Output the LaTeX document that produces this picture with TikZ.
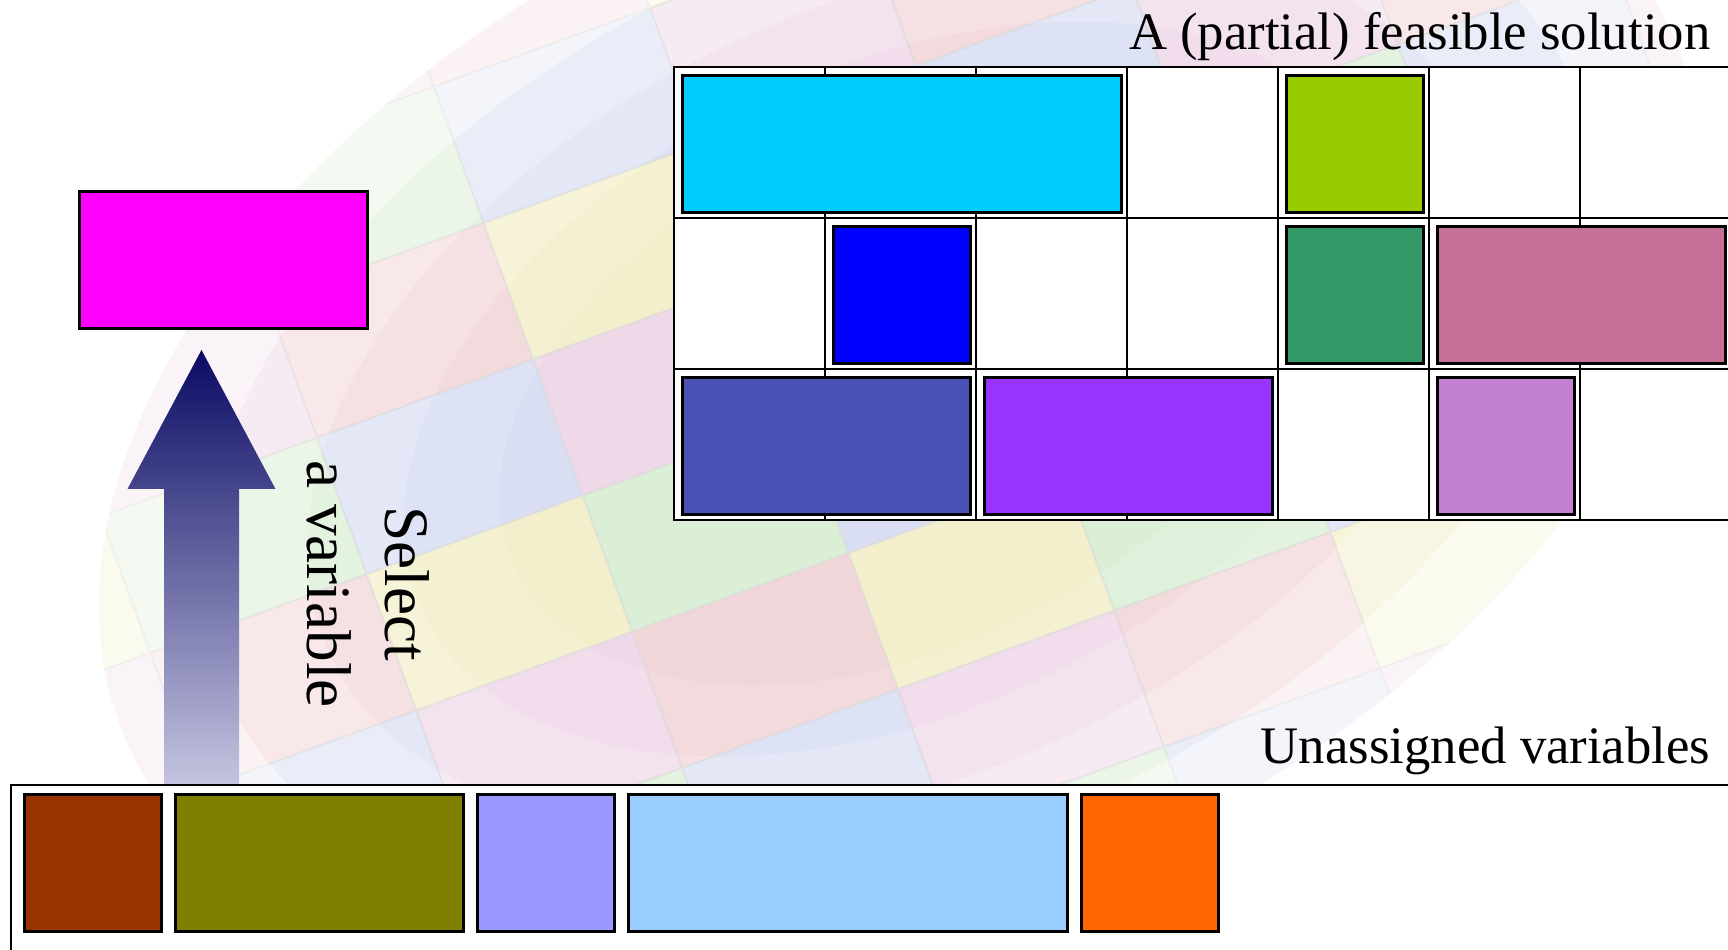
\documentclass[tikz,border=0pt]{standalone}
\usepackage{fontspec}
\setmainfont{Liberation Serif}
\usepackage{tikz}
\usetikzlibrary{calc}
\usepackage{xcolor}

\definecolor{varcyan}{HTML}{00CCFF}
\definecolor{varlime}{HTML}{99CC00}
\definecolor{varblue}{HTML}{0000FF}
\definecolor{vargreen}{HTML}{339966}
\definecolor{varrose}{HTML}{C77097}
\definecolor{varindigo}{HTML}{4B50B4}
\definecolor{varviolet}{HTML}{9933FF}
\definecolor{varorchid}{HTML}{C480D0}
\definecolor{varmagenta}{HTML}{FF00FF}
\definecolor{varbrown}{HTML}{993300}
\definecolor{varolive}{HTML}{808000}
\definecolor{varlavender}{HTML}{9999FF}
\definecolor{varsky}{HTML}{99CCFF}
\definecolor{varorange}{HTML}{FF6600}
\definecolor{arrowtop}{RGB}{10,10,100}
\definecolor{arrowfoot}{RGB}{196,196,224}
\definecolor{bg0}{RGB}{238,200,204}
\definecolor{bg1}{RGB}{240,236,186}
\definecolor{bg2}{RGB}{206,236,200}
\definecolor{bg3}{RGB}{204,212,240}
\definecolor{bg4}{RGB}{236,204,226}

\begin{document}
\begin{tikzpicture}

    % --- Global Settings ---
    \tikzset{
        cellgrid/.style={line width=0.4pt, black},
        varblock/.style={draw=black, line width=0.8pt, inner sep=0pt,
            minimum height=1.37cm, anchor=north west},
        caption/.style={font=\fontsize{15}{18}\selectfont, inner sep=0pt}
    }

    \clip (0,0) rectangle (17.28,9.49);
    \fill[white] (0,0) rectangle (17.28,9.49);

    % --- Background: faded checker sheet (stacked soft layers) ---
    \foreach \s in {0.5,0.62,0.74,0.87,1.0} {
        \begin{scope}
            \clip[shift={(9,5.6)}, rotate=25] (0,0) ellipse ({8.5*\s} and {5.2*\s});
            \begin{scope}[shift={(2,1.6)}, rotate=20]
                \foreach \i in {-2,...,8} {
                    \foreach \j in {-5,...,6} {
                        \pgfmathtruncatemacro\k{mod(\i+2*\j+20,5)}
                        \fill[bg\k, opacity=0.22] (\i*2.3,\j*1.45) rectangle ++(2.3,1.45);
                    }
                }
                \draw[black!12, line width=0.6pt, opacity=0.3, step=1] (-4.6,-7.25)
                    grid[xstep=2.3, ystep=1.45] (20.7,10.15);
            \end{scope}
        \end{scope}
    }

    % --- Selection arrow ---
    \coordinate (tail) at (2.015,1.65);
    \coordinate (tip) at (2.015,5.99);
    \shade[top color=arrowtop, bottom color=arrowfoot]
        ($(tail)+(-0.375,0)$) -- ($(tip)+(-0.375,-1.39)$) -- ($(tip)+(-0.74,-1.39)$)
        -- (tip) -- ($(tip)+(0.74,-1.39)$) -- ($(tip)+(0.375,-1.39)$)
        -- ($(tail)+(0.375,0)$) -- cycle;

    \node[rotate=-90, align=center, inner sep=0pt, font=\fontsize{18}{22}\selectfont]
        (selcap) at (3.68,3.65) {Select\\a variable};

    % --- Panel 1: partial solution ---
    \begin{scope}[shift={(6.74,4.29)}]
        \fill[white] (0,0) rectangle (10.57,4.53);
        \draw[cellgrid, step=1.51] (0,0) grid (10.57,4.53);
        \draw[line width=0.6pt] (0,0) rectangle (10.57,4.53);
    \end{scope}

    \foreach \nm/\c/\r/\w/\clr in {cyanvar/0/0/3/varcyan, limevar/4/0/1/varlime,
            bluevar/1/1/1/varblue, greenvar/4/1/1/vargreen, rosevar/5/1/2/varrose,
            indigovar/0/2/2/varindigo, violetvar/2/2/2/varviolet, orchidvar/5/2/1/varorchid} {
        \node[varblock, fill=\clr, minimum width={\w*1.51cm-0.14cm}]
            (\nm) at ({6.81+\c*1.51},{8.75-\r*1.51}) {};
    }

    \node[caption, anchor=base east] (solcap) at (17.11,8.99) {A (partial) feasible solution};

    % --- Selected variable ---
    \node[varblock, fill=varmagenta, minimum width=2.88cm] (pick) at (0.78,7.59) {};

    % --- Panel 2: unassigned variables ---
    \node[draw, line width=0.6pt, fill=white, anchor=north west, inner sep=0pt,
        minimum width=18cm, minimum height=2cm] (pool) at (0.10,1.65) {};

    \foreach \nm/\c/\w/\clr in {brownvar/0/1/varbrown, olivevar/1/2/varolive,
            lavendervar/3/1/varlavender, skyvar/4/3/varsky, orangevar/7/1/varorange} {
        \node[varblock, fill=\clr, minimum width={\w*1.51cm-0.14cm}]
            (\nm) at ({0.23+\c*1.51},1.56) {};
    }

    \node[caption, anchor=base east] (poolcap) at (17.11,1.86) {Unassigned variables};

\end{tikzpicture}
\end{document}
